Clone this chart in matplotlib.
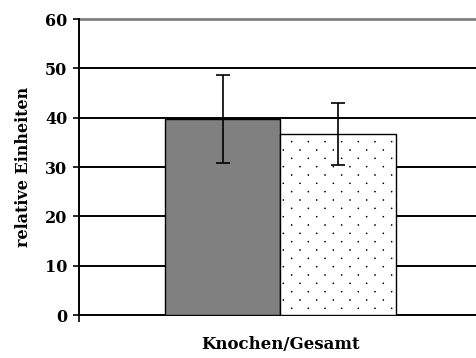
import numpy as np
import matplotlib
matplotlib.use("Agg")
import matplotlib.pyplot as plt
import matplotlib.hatch as mhatch
from matplotlib.path import Path

# Data
category = "Knochen/Gesamt"
series_values = [39.7, 36.7]
series_errors = [8.9, 6.2]
y_ticks = [0, 10, 20, 30, 40, 50, 60]
y_label = "relative Einheiten"


class DotLattice(mhatch.HatchPatternBase):
    """Fine dot texture: staggered rows, tighter vertically than horizontally."""
    cols = 6
    rows = 12
    radius = 0.004

    def __init__(self, hatch, density):
        self.pts = []
        if "." in hatch:
            for r in range(self.rows + 1):
                y = r / self.rows
                if r % 2 == 0:
                    xs = np.arange(self.cols + 1) / self.cols
                else:
                    xs = (np.arange(self.cols) + 0.5) / self.cols
                self.pts += [(x, y) for x in xs]
        circ = Path.unit_circle()
        self.cv = circ.vertices * self.radius
        self.cc = circ.codes
        self.num_vertices = len(self.pts) * len(self.cv)

    def set_vertices_and_codes(self, vertices, codes):
        n = len(self.cv)
        for i, (x, y) in enumerate(self.pts):
            vertices[i * n:(i + 1) * n] = self.cv + [x, y]
            codes[i * n:(i + 1) * n] = self.cc


mhatch._hatch_types[:] = [
    DotLattice if t is mhatch.SmallFilledCircles else t
    for t in mhatch._hatch_types
]

plt.rcParams["font.family"] = ["DejaVu Serif"]
plt.rcParams["font.weight"] = "bold"
plt.rcParams["hatch.linewidth"] = 0.6
plt.rcParams["hatch.color"] = "#303030"

fig = plt.figure(figsize=(4.76, 3.58), dpi=100)
ax = fig.add_axes([79 / 476, 43 / 358, 1 - 79 / 476, (315 - 19) / 358])

x = np.array([-0.5, 0.5])
ax.bar(x[0], series_values[0], width=1.0, color="#808080",
       edgecolor="black", linewidth=1.0, zorder=3)
ax.bar(x[1], series_values[1], width=1.0, color="white",
       edgecolor="black", linewidth=1.0, hatch=".", zorder=3)
ax.errorbar(x, series_values, yerr=series_errors, fmt="none",
            ecolor="black", elinewidth=1.2, capsize=5, capthick=1.2, zorder=4)

ax.set_ylim(0, 60)
ax.set_xlim(-1.743, 1.694)

# horizontal gridlines
for t in y_ticks[1:]:
    if t == 60:
        ax.axhline(t, color="#808080", linewidth=2.0, zorder=1, clip_on=False)
    else:
        ax.axhline(t, color="black", linewidth=1.4, zorder=1)

for s in ["top", "right"]:
    ax.spines[s].set_visible(False)
ax.spines["left"].set_linewidth(1.4)
ax.spines["bottom"].set_linewidth(1.4)

ax.set_yticks(y_ticks)
ax.set_yticklabels([str(t) for t in y_ticks], fontsize=11.5, fontweight="bold")
ax.tick_params(axis="y", direction="out", length=4.5, width=1.2, pad=4)

ax.set_xticks([0])
ax.set_xticklabels([category], fontsize=12, fontweight="bold")
ax.tick_params(axis="x", which="major", length=0, pad=15)
ax.set_xticks([-1.743], minor=True)
ax.tick_params(axis="x", which="minor", direction="out", length=5, width=1.2)

ax.set_ylabel(y_label, fontsize=11.5, fontweight="bold", labelpad=9)

fig.savefig("out.png", dpi=100)
